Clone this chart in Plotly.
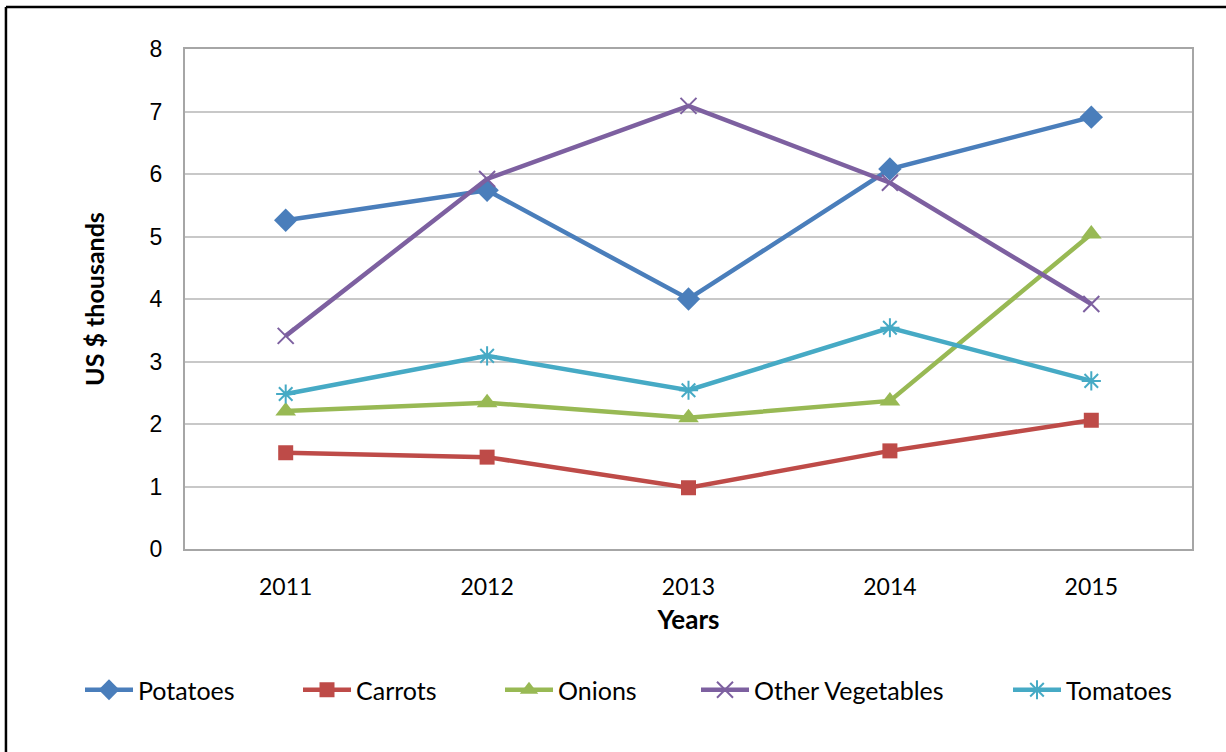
import plotly.graph_objects as go

years = ["2011", "2012", "2013", "2014", "2015"]
potatoes = [5.26, 5.74, 4.00, 6.08, 6.91]
carrots = [1.54, 1.47, 0.98, 1.57, 2.06]
onions = [2.21, 2.34, 2.10, 2.37, 5.04]
other_veg = [3.41, 5.92, 7.09, 5.86, 3.92]
tomatoes = [2.48, 3.09, 2.54, 3.54, 2.69]

series = [
    ("Potatoes", potatoes, "#4A7EBB", "diamond", 18, 0),
    ("Carrots", carrots, "#BE4B48", "square", 15, 0),
    ("Onions", onions, "#98B954", "triangle-up", 18, 0),
    ("Other Vegetables", other_veg, "#7D60A0", "x-thin-open", 16, 2),
    ("Tomatoes", tomatoes, "#46AAC5", "asterisk-open", 16, 2),
]
# text start (pixels) of each legend entry
legend_text_px = [140, 358, 560, 756, 1068]

PLOT_L, PLOT_W, PLOT_T, PLOT_H = 185, 1007, 49, 500
ITEMW = 48

fig = go.Figure()
layout_legends = {}
for i, (name, vals, color, sym, size, mlw) in enumerate(series):
    marker = dict(symbol=sym, size=size, color=color)
    if mlw:
        marker["line"] = dict(color=color, width=mlw)
    lname = "legend" if i == 0 else f"legend{i+1}"
    fig.add_trace(go.Scatter(
        x=years, y=vals, name=name, mode="lines+markers",
        line=dict(color=color, width=4.5), marker=marker, legend=lname,
    ))
    left = legend_text_px[i] - (ITEMW + 12)
    layout_legends[lname] = dict(
        orientation="h", x=(left - PLOT_L) / PLOT_W, xanchor="left",
        y=(PLOT_T + PLOT_H - 690) / PLOT_H, yanchor="middle",
        font=dict(family="Lato", size=25, color="black"),
        itemwidth=ITEMW, bgcolor="rgba(0,0,0,0)",
    )

fig.update_layout(
    width=1226, height=752,
    margin=dict(l=185, r=34, t=49, b=203),
    paper_bgcolor="white", plot_bgcolor="white",
    showlegend=True,
    xaxis=dict(type="category", range=[-0.5, 4.5], showgrid=False,
               showline=True, linecolor="#A6A6A6", linewidth=2, mirror=True,
               ticks="outside", ticklen=16, tickcolor="rgba(0,0,0,0)",
               tickfont=dict(family="Lato", size=23, color="black"),
               title=dict(text="<b>Years</b>", font=dict(family="Lato", size=26, color="black"),
                          standoff=12)),
    yaxis=dict(range=[0, 8], dtick=1, showgrid=True, gridcolor="#C8C8C8", gridwidth=1.5,
               showline=True, linecolor="#A6A6A6", linewidth=2, mirror=True, zeroline=False,
               ticks="outside", ticklen=16, tickcolor="rgba(0,0,0,0)",
               tickfont=dict(family="Liberation Sans", size=23, color="black"),
               title=dict(text="<b>US $ thousands</b>", font=dict(family="Lato", size=25, color="black"),
                          standoff=38)),
    **layout_legends,
)

# outer chart border (top and left visible)
fig.add_shape(type="line", xref="paper", yref="paper", x0=-0.1778, x1=1.1, y0=1.084, y1=1.084,
              line=dict(color="black", width=2.5))
fig.add_shape(type="line", xref="paper", yref="paper", x0=-0.1778, x1=-0.1778, y0=1.084, y1=-0.45,
              line=dict(color="black", width=2.5))

fig.write_html("out.html", config={"displayModeBar": False},
               post_script="document.body.style.margin='0px';")
